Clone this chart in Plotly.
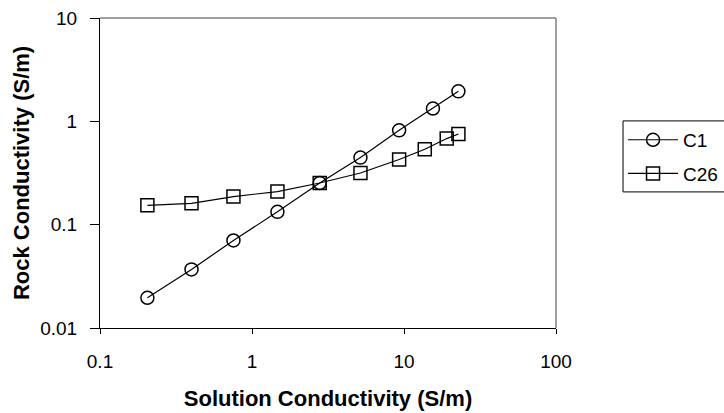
import plotly.graph_objects as go

# Data
x_c1 = [0.205, 0.40, 0.755, 1.47, 2.79, 5.17, 9.29, 15.5, 22.8]
y_c1 = [0.0196, 0.0369, 0.0703, 0.133, 0.253, 0.446, 0.818, 1.33, 1.95]

x_c26 = [0.205, 0.40, 0.755, 1.47, 2.79, 5.17, 9.29, 13.7, 19.1, 22.8]
y_c26 = [0.154, 0.161, 0.187, 0.209, 0.253, 0.316, 0.427, 0.536, 0.681, 0.754]

x_ticks = [0.1, 1, 10, 100]
x_tick_labels = ["0.1", "1", "10", "100"]
y_ticks = [0.01, 0.1, 1, 10]
y_tick_labels = ["0.01", "0.1", "1", "10"]

FONT = "Liberation Sans, Arial, sans-serif"

fig = go.Figure()
fig.add_trace(go.Scatter(
    x=x_c1, y=y_c1, name="C1", mode="lines+markers", legendgroup="c1",
    line=dict(color="black", width=1.2),
    marker=dict(symbol="circle-open", size=13, color="black", line=dict(width=1.5, color="black")),
))
fig.add_trace(go.Scatter(
    x=x_c26, y=y_c26, name="C26", mode="lines+markers", legendgroup="c26",
    line=dict(color="black", width=1.2),
    marker=dict(symbol="square-open", size=13, color="black", line=dict(width=1.5, color="black")),
))

fig.update_layout(
    width=724, height=413,
    margin=dict(l=100, r=168, t=18, b=85, autoexpand=False),
    paper_bgcolor="white", plot_bgcolor="white",
    font=dict(family=FONT, size=19, color="black"),
    showlegend=True,
    legend=dict(
        x=1.147, y=0.668, xanchor="left", yanchor="top",
        borderwidth=0, bgcolor="rgba(0,0,0,0)",
        font=dict(family=FONT, size=19, color="black"),
        traceorder="grouped", tracegroupgap=6, itemwidth=50,
    ),
    xaxis=dict(
        type="log", range=[-1, 2],
        tickvals=x_ticks, ticktext=x_tick_labels,
        showline=True, linecolor="black", linewidth=1,
        ticks="outside", ticklen=5, tickcolor="black",
        showgrid=False, zeroline=False,
        tickfont=dict(size=19), ticklabelstandoff=11,
        title=dict(text="<b>Solution Conductivity (S/m)</b>", font=dict(size=22), standoff=19),
    ),
    yaxis=dict(
        type="log", range=[-2, 1],
        tickvals=y_ticks, ticktext=y_tick_labels,
        showline=True, linecolor="black", linewidth=1,
        ticks="outside", ticklen=9, tickcolor="black",
        showgrid=False, zeroline=False,
        tickfont=dict(size=19), ticklabelstandoff=9,
        title=dict(text="<b>Rock Conductivity (S/m)</b>", font=dict(size=22), standoff=4),
    ),
    shapes=[
        dict(type="line", xref="paper", yref="paper", x0=0, x1=1, y0=1, y1=1,
             line=dict(color="#808080", width=1.5)),
        dict(type="line", xref="paper", yref="paper", x0=1, x1=1, y0=0, y1=1,
             line=dict(color="#808080", width=1.5)),
        # legend frame, open past the right edge of the page as in the reference
        dict(type="rect", xref="paper", yref="paper", x0=1.147, x1=1.40, y0=0.439, y1=0.668,
             line=dict(color="black", width=1)),
    ],
)

fig.write_html("out.html")
